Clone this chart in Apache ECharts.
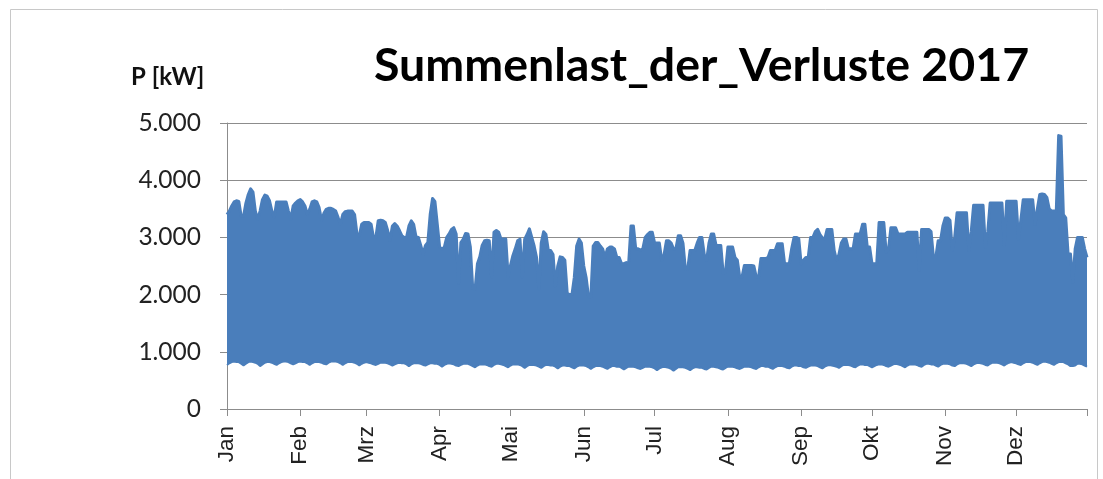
<!DOCTYPE html>
<html>
<head>
<meta charset="utf-8">
<script src="https://cdn.jsdelivr.net/npm/echarts@6/dist/echarts.min.js"></script>
<style>
  html, body { margin: 0; padding: 0; background: #fff; }
  #LastChart { width: 1103px; height: 479px; }
</style>
</head>
<body>
<div id="LastChart"></div>
<script>
// Monatsnamen und erster Tag (Index) jedes Monats 2017
const monthNames = ['Jan', 'Feb', 'Mrz', 'Apr', 'Mai', 'Jun', 'Jul', 'Aug', 'Sep', 'Okt', 'Nov', 'Dez'];
const monthStarts = [0, 31, 59, 90, 120, 151, 181, 212, 243, 273, 304, 334];
const yTicks = [0, 1000, 2000, 3000, 4000, 5000];

// Tagesmaximum [kW], je Zeile eine Woche (So..Sa)
const dayMax = [
    3400, 3460, 3550, 3620, 3640, 3630, 3370,
    3370, 3600, 3750, 3850, 3790, 3460, 3320,
    3460, 3660, 3740, 3720, 3640, 3460, 3350,
    3620, 3620, 3620, 3620, 3620, 3460, 3320,
    3550, 3600, 3640, 3660, 3620, 3550, 3400,
    3490, 3620, 3640, 3620, 3520, 3300, 3420,
    3490, 3510, 3510, 3490, 3460, 3350, 3230,
    3400, 3450, 3460, 3460, 3460, 3400, 3060,
    3030, 3230, 3260, 3260, 3260, 3230, 3000,
    3000, 3290, 3300, 3290, 3260, 3120, 2950,
    3200, 3240, 3200, 3120, 3030, 3000, 3000,
    3200, 3290, 3230, 3010, 3000, 2860, 2710,
    2860, 2910, 3400, 3680, 3630, 3230, 2830,
    2800, 2830, 3000, 3060, 3140, 3170, 3060,
    2200, 2910, 2970, 3070, 3060, 2830, 2110,
    2090, 2540, 2660, 2860, 2940, 2950, 2940,
    2310, 3090, 3120, 3090, 2970, 2970, 2970,
    2310, 2510, 2680, 2800, 2940, 2970, 2310,
    2970, 3050, 3150, 3000, 2850, 2650, 2100,
    2900, 3100, 3050, 2770, 2770, 2700, 2140,
    2500, 2660, 2650, 2600, 2020, 2000, 2000,
    2300, 2850, 2970, 2900, 2500, 2300, 1970,
    1950, 2850, 2910, 2910, 2850, 2800, 2650,
    2800, 2830, 2830, 2800, 2650, 2650, 2540,
    2540, 2560, 2540, 3200, 3200, 2800, 2800,
    2780, 2800, 3000, 3050, 3090, 3090, 2900,
    2900, 2900, 2600, 2700, 2940, 2940, 2900,
    2800, 2800, 3030, 3030, 2900, 2450, 2450,
    2770, 2770, 2770, 2900, 3000, 3000, 2700,
    2600, 2900, 3060, 3060, 2860, 2860, 2860,
    2370, 2400, 2830, 2830, 2830, 2650, 2600,
    2310, 2310, 2510, 2510, 2510, 2510, 2500,
    2310, 2310, 2630, 2630, 2630, 2650, 2770,
    2770, 2770, 2890, 2890, 2890, 2540, 2540,
    2540, 2800, 3000, 3000, 2980, 2540, 2600,
    2650, 2650, 3000, 3000, 3100, 3140, 3050,
    2990, 2970, 3140, 3140, 3140, 2770, 2600,
    2700, 2900, 2970, 2970, 2800, 2800, 2800,
    3060, 3060, 3060, 3230, 3230, 2830, 2830,
    2540, 2540, 2540, 3260, 3260, 3260, 2740,
    2800, 3170, 3170, 3170, 3060, 3060, 3060,
    3060, 3090, 3090, 3090, 3090, 3090, 2420,
    3140, 3140, 3140, 3140, 3100, 2650, 2650,
    2940, 2940, 3200, 3340, 3340, 3300, 2770,
    3000, 3430, 3430, 3430, 3430, 3430, 2770,
    3100, 3560, 3560, 3560, 3560, 3560, 2830,
    3100, 3600, 3600, 3600, 3600, 3600, 3600,
    2860, 3630, 3630, 3630, 3630, 3630, 2970,
    3300, 3660, 3660, 3660, 3660, 3660, 3230,
    3500, 3750, 3760, 3750, 3700, 3500, 3460,
    3460, 3460, 4780, 4770, 3400, 3340, 2710,
    2710, 2220, 2800, 3000, 3000, 3000, 2800,
    2650
];

// Tagesminimum [kW], je Zeile eine Woche (So..Sa)
const dayMin = [
    770, 800, 820, 830, 820, 820, 790,
    760, 790, 820, 830, 820, 810, 790,
    750, 780, 810, 820, 820, 810, 790,
    770, 800, 820, 830, 830, 820, 800,
    780, 800, 820, 830, 820, 820, 800,
    770, 800, 820, 820, 820, 810, 790,
    780, 810, 830, 830, 830, 820, 800,
    770, 800, 820, 820, 820, 810, 790,
    760, 790, 810, 820, 810, 800, 780,
    770, 790, 810, 810, 810, 800, 780,
    760, 780, 800, 810, 800, 800, 780,
    750, 780, 800, 800, 800, 790, 770,
    760, 780, 800, 800, 790, 790, 770,
    740, 770, 790, 800, 790, 780, 760,
    750, 770, 790, 790, 790, 770, 750,
    730, 760, 780, 780, 780, 770, 750,
    740, 770, 790, 790, 780, 770, 750,
    730, 760, 780, 780, 780, 770, 750,
    720, 750, 770, 770, 770, 760, 740,
    720, 750, 770, 770, 760, 760, 740,
    710, 740, 760, 760, 750, 750, 730,
    710, 740, 760, 760, 760, 750, 730,
    700, 730, 750, 750, 750, 740, 720,
    700, 730, 750, 750, 740, 740, 720,
    690, 720, 740, 740, 740, 730, 710,
    700, 720, 740, 740, 740, 730, 710,
    680, 710, 730, 740, 730, 720, 700,
    670, 700, 730, 730, 730, 720, 700,
    680, 710, 730, 730, 720, 720, 700,
    690, 720, 740, 740, 730, 720, 700,
    690, 720, 740, 740, 740, 730, 710,
    700, 720, 740, 740, 740, 730, 710,
    700, 730, 750, 750, 740, 740, 720,
    700, 730, 750, 750, 750, 740, 720,
    710, 740, 760, 760, 750, 750, 730,
    720, 740, 760, 760, 760, 750, 730,
    710, 740, 760, 770, 760, 750, 740,
    720, 750, 770, 770, 770, 760, 740,
    730, 760, 780, 780, 770, 770, 750,
    730, 750, 770, 780, 780, 770, 750,
    740, 760, 780, 790, 780, 770, 750,
    730, 760, 780, 780, 780, 770, 750,
    740, 770, 790, 790, 780, 780, 760,
    740, 770, 790, 790, 790, 780, 760,
    750, 780, 800, 800, 800, 790, 770,
    750, 780, 800, 810, 800, 790, 770,
    760, 790, 810, 810, 810, 800, 780,
    760, 790, 810, 820, 810, 800, 780,
    770, 800, 820, 820, 820, 810, 790,
    770, 800, 820, 830, 820, 810, 790,
    770, 800, 820, 820, 820, 800, 780,
    750, 750, 760, 790, 790, 780, 760,
    740
];

// Kategorien: Tage des Jahres
const days = dayMax.map((v, i) => String(i + 1));
// Band = Max - Min (gestapelt auf Min)
const bandVals = dayMax.map((v, i) => v - dayMin[i]);
const tickIdx = monthStarts.concat([days.length - 1]);

const blue = '#4A7EBB';
const gray = '#8c8c8c';

const myChart = echarts.init(document.getElementById('LastChart'));
const option = {
    animation: false,
    backgroundColor: '#fff',
    title: [
        {
            text: 'Summenlast_der_Verluste 2017',
            left: 369,
            top: 37,
            textStyle: { fontFamily: 'Lato', fontWeight: 'bold', fontSize: 46.5, color: '#000' }
        },
        {
            text: 'P [kW]',
            left: 126,
            top: 60,
            textStyle: { fontFamily: 'Lato', fontWeight: 'bold', fontSize: 24, color: '#111' }
        }
    ],
    graphic: [
        {
            type: 'rect',
            shape: { x: 10.5, y: 9.5, width: 1087, height: 500 },
            style: { fill: 'none', stroke: '#c8c8c8', lineWidth: 1 },
            silent: true
        }
    ],
    grid: {
        left: 227,
        right: 16,
        top: 123,
        bottom: 70
    },
    xAxis: {
        type: 'category',
        data: days,
        boundaryGap: false,
        axisLine: { lineStyle: { color: gray, width: 1 } },
        axisTick: {
            show: true,
            length: 7,
            interval: (i) => tickIdx.includes(i),
            lineStyle: { color: gray }
        },
        axisLabel: {
            interval: (i) => monthStarts.includes(i),
            rotate: 90,
            margin: 17,
            fontFamily: 'Liberation Sans',
            fontSize: 22.5,
            color: '#222',
            formatter: (v, i) => monthNames[monthStarts.indexOf(i)]
        },
        splitLine: { show: false }
    },
    yAxis: {
        type: 'value',
        min: yTicks[0],
        max: yTicks[yTicks.length - 1],
        interval: 1000,
        axisLine: { show: true, lineStyle: { color: gray } },
        axisTick: { show: true, length: 7, lineStyle: { color: gray } },
        axisLabel: {
            margin: 26,
            fontFamily: 'Lato',
            fontSize: 24.5,
            color: '#222',
            formatter: (v) => (v === 0 ? '0' : (v / 1000) + '.000')
        },
        splitLine: { lineStyle: { color: gray, width: 1 } }
    },
    series: [
        {
            name: 'Min',
            type: 'line',
            stack: 'last',
            data: dayMin,
            symbol: 'none',
            lineStyle: { color: blue, width: 2 },
            itemStyle: { color: blue }
        },
        {
            name: 'Summenlast',
            type: 'line',
            stack: 'last',
            data: bandVals,
            symbol: 'none',
            lineStyle: { color: blue, width: 3, join: 'round' },
            itemStyle: { color: blue },
            areaStyle: { color: blue, opacity: 1 }
        }
    ]
};
myChart.setOption(option);
window.addEventListener('resize', () => {
    myChart.resize();
});
</script>
</body>
</html>
